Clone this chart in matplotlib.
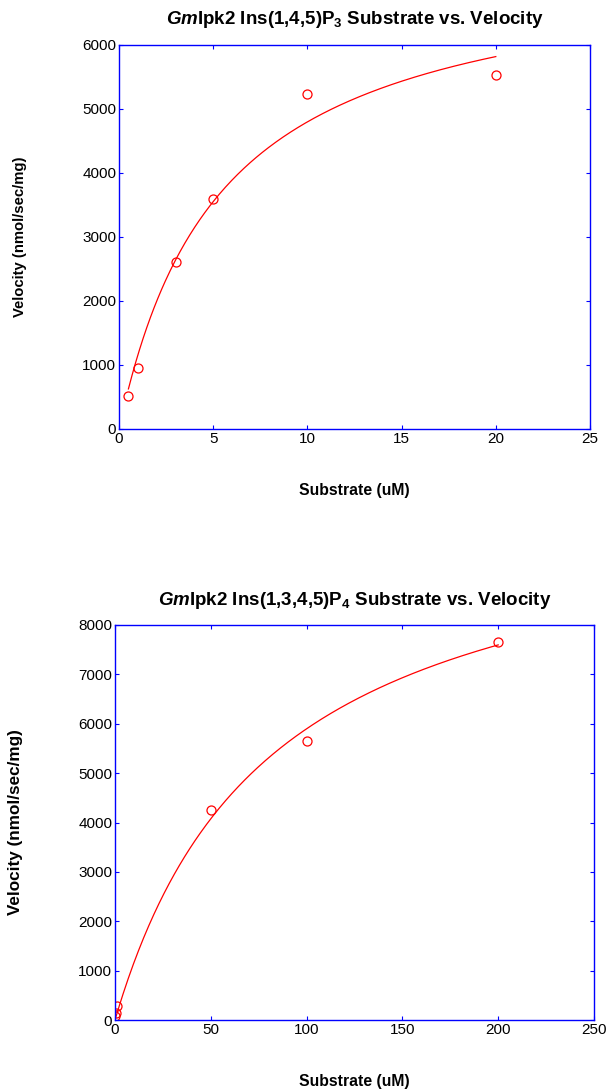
import numpy as np
import matplotlib
matplotlib.use("Agg")
import matplotlib.pyplot as plt

plt.rcParams['font.family'] = ['Liberation Sans', 'DejaVu Sans']
plt.rcParams['mathtext.fontset'] = 'custom'
plt.rcParams['mathtext.rm'] = 'Liberation Sans:bold'
plt.rcParams['mathtext.it'] = 'Liberation Sans:italic:bold'
plt.rcParams['mathtext.bf'] = 'Liberation Sans:bold'

# IP3 data (measured points)
ip3_substrate = [0.5, 1, 3, 5, 10, 20]
ip3_velocity = [515, 950, 2610, 3590, 5230, 5535]
# Michaelis-Menten fit
ip3_vmax, ip3_km = 7390, 5.4
ip3_range = (0.5, 20)

# IP4 data
ip4_substrate = [0.25, 0.5, 1, 50, 100, 200]
ip4_velocity = [80, 140, 285, 4250, 5660, 7650]
ip4_vmax, ip4_km = 10670, 80.9
ip4_range = (0.25, 200)

W, H = 610, 1089
fig = plt.figure(figsize=(W / 100, H / 100), dpi=100)


def draw_panel(rect, subs, vel, vmax, km, srange, xmax, ymax, xstep, ystep,
               title, ylab_x, ylab_size):
    l, t, r, b = rect
    ax = fig.add_axes([l / W, 1 - b / H, (r - l) / W, (b - t) / H])
    s = np.linspace(srange[0], srange[1], 300)
    ax.plot(s, vmax * s / (km + s), color='red', linewidth=0.9)
    ax.plot(subs, vel, linestyle='none', marker='o', markersize=6.5,
            markerfacecolor='none', markeredgecolor='red', markeredgewidth=0.9)
    ax.set_xlim(0, xmax)
    ax.set_ylim(0, ymax)
    ax.set_xticks(np.arange(0, xmax + 1, xstep))
    ax.set_yticks(np.arange(0, ymax + 1, ystep))
    for sp in ax.spines.values():
        sp.set_color('blue')
        sp.set_linewidth(1.0)
    ax.tick_params(direction='in', colors='blue', labelcolor='black', length=3,
                   labelsize=11, top=True, right=True, pad=2)
    ax.set_xlabel('Substrate (uM)', fontsize=11.3, fontweight='bold')
    ax.set_ylabel('Velocity (nmol/sec/mg)', fontsize=ylab_size, fontweight='bold')
    ax.xaxis.set_label_coords(0.5, -54 / (b - t))
    ax.yaxis.set_label_coords((ylab_x - l) / (r - l), 0.5)
    ax.text(0.5, 1 + 25 / (b - t), title, transform=ax.transAxes,
            ha='center', va='center', fontsize=13.5, fontweight='bold')
    return ax


draw_panel((119, 45, 590, 429), ip3_substrate, ip3_velocity, ip3_vmax, ip3_km,
           ip3_range, 25, 6000, 5, 1000,
           r'$\mathit{Gm}$Ipk2 Ins(1,4,5)P$_3$ Substrate vs. Velocity', 27, 10.7)
draw_panel((115, 625, 594, 1020), ip4_substrate, ip4_velocity, ip4_vmax, ip4_km,
           ip4_range, 250, 8000, 50, 1000,
           r'$\mathit{Gm}$Ipk2 Ins(1,3,4,5)P$_4$ Substrate vs. Velocity', 23, 12.3)

fig.savefig('out.png', dpi=100)
